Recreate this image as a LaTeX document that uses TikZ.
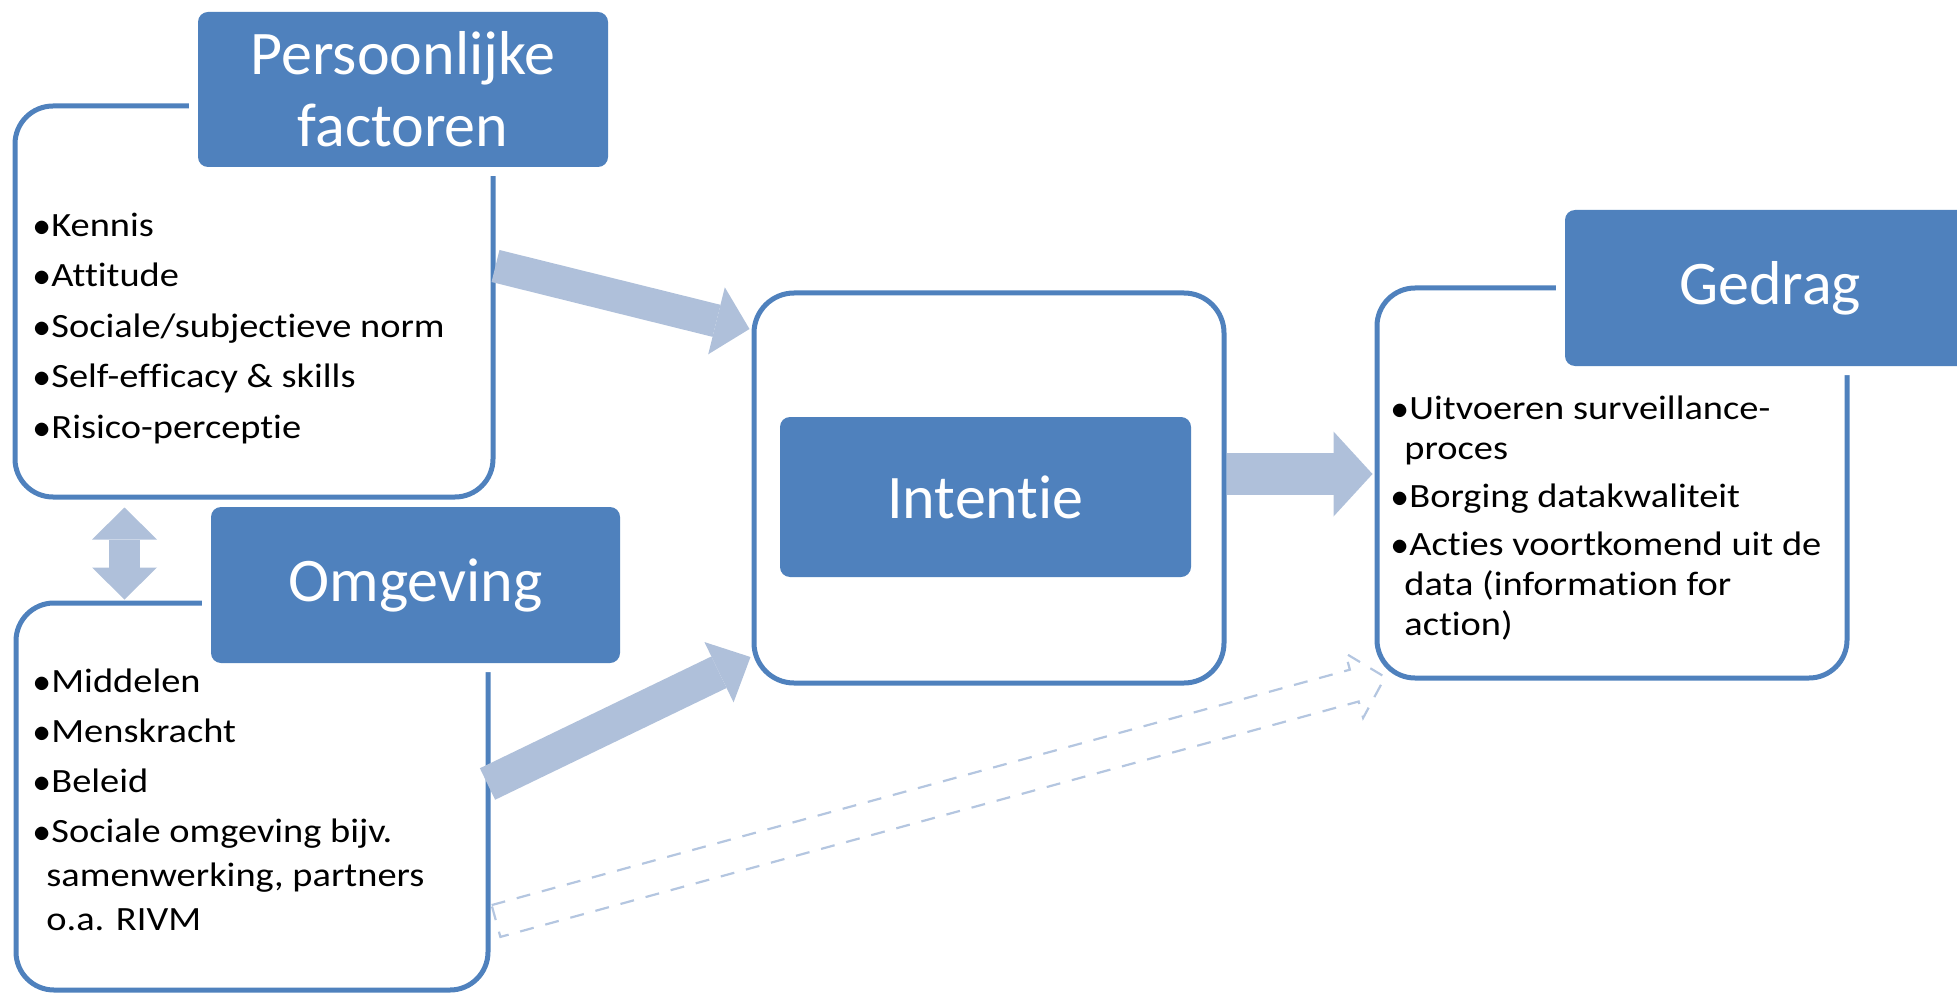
\documentclass[tikz,border=0pt]{standalone}
\usepackage{fontspec}
\setmainfont{Carlito}[Ligatures=NoCommon]
\newfontfamily\listfont{Carlito}[FakeStretch=1.13,Ligatures=NoCommon]
\usetikzlibrary{arrows.meta,calc,fit}
\definecolor{hdrblue}{HTML}{4F81BD}
\definecolor{arrowblue}{HTML}{AFC0DA}
\definecolor{dashblue}{HTML}{B4C6E0}
\newcommand\bul{\makebox[9pt][l]{$\bullet$}}
\newcommand\cont{\hspace*{6.5pt}}
\tikzset{
  cbox/.style={draw=hdrblue, line width=2.5pt, fill=white, rounded corners=19pt, inner sep=0pt},
  hdr/.style={fill=hdrblue, rounded corners=5pt, inner sep=0pt,
    preaction={draw=white, line width=9pt}},
  ibox/.style={fill=hdrblue, rounded corners=5pt, inner sep=0pt},
  hdrtext/.style={text=white, inner sep=0pt, align=center,
    font=\fontsize{31}{36}\selectfont},
  itemlist/.style={anchor=base west, inner sep=0pt, align=left, text=black},
  barrow/.style={draw=arrowblue, line cap=butt},
  dashline/.style={draw=dashblue, line width=1.1pt, dash pattern=on 7pt off 6pt, line join=miter}
}
\begin{document}
\begin{tikzpicture}[x=0.5pt,y=-0.5pt]
\useasboundingbox (0,0) rectangle (1957,994);
\clip (0,0) rectangle (1957,994);

% boxes
\node[cbox, fit={(16,603)(488,990)}] (ob) {};
\node[hdr, fit={(211,507)(620,663)}, label={[hdrtext]center:Omgeving}] (oh) {};
\node[cbox, fit={(15,106)(493,497)}] (pb) {};
\node[hdr, fit={(198,12)(608,167)}, label={[hdrtext]center:{Persoonlijke\\factoren}}] (ph) {};
\node[cbox, rounded corners=20pt, fit={(754,293)(1224,683)}] (ib) {};
\node[ibox, fit={(780,417)(1191,577)}, label={[hdrtext]center:Intentie}] (ii) {};
\node[cbox, fit={(1377,288)(1847,678)}] (gb) {};
\node[hdr, fit={(1565,210)(1975,366)}, label={[hdrtext]center:Gedrag}] (gh) {};

% lists (anchored at the baseline of their last line)
\node[itemlist, font=\listfont\fontsize{17}{20.5}\selectfont] (pbl) at (33,438)
  {\bul Kennis\\[4.75pt]\bul Attitude\\[4.75pt]\bul Sociale/subjectieve norm\\[4.75pt]\bul Self-efficacy \& skills\\[4.75pt]\bul Risico-perceptie};
\node[itemlist, font=\listfont\fontsize{17}{22}\selectfont] (obl) at (33,930)
  {\bul Middelen\\[3pt]\bul Menskracht\\[3pt]\bul Beleid\\[3pt]\bul Sociale omgeving bijv.\\\cont samenwerking, partners\\\cont o.a. RIVM};
\node[itemlist, font=\listfont\fontsize{17}{20}\selectfont] (gbl) at (1391,635)
  {\bul Uitvoeren surveillance-\\\cont proces\\[4pt]\bul Borging datakwaliteit\\[4pt]\bul Acties voortkomend uit de\\\cont data (information for\\\cont action)};

% connector end points
\coordinate (a1s) at ($(pb.east)+(0,-35.5)$);
\coordinate (a1t) at ($(ib.west)+(-2,-159)$);
\coordinate (a2s) at ($(ob.east)+(-3,-12.5)$);
\coordinate (a2t) at ($(ib.west)+(-1,169)$);
\coordinate (a3s) at ($(ib.east)+(0,-14)$);
\coordinate (a3t) at ($(gb.west)+(-2,-9)$);
\coordinate (a4s) at ($(pb.south)+(-129.5,8)$);
\coordinate (a4t) at ($(ob.north)+(-127.5,-1)$);
\coordinate (a5s) at ($(ob.east)+(5.5,124.5)$);
\coordinate (a5t) at ($(gb.west)+(6,194)$);

% block arrows
\draw[barrow, line width=16.5pt, -{Triangle[width=34.5pt,length=17pt,line width=0pt]}] (a1s) -- (a1t);
\draw[barrow, line width=17.5pt, -{Triangle[width=33.5pt,length=17.5pt,line width=0pt]}] (a2s) -- (a2t);
\draw[barrow, line width=21pt, -{Triangle[width=42.5pt,length=19.5pt,line width=0pt]}] (a3s) -- (a3t);
\draw[barrow, line width=15.5pt, {Triangle[width=32.5pt,length=16pt,line width=0pt]}-{Triangle[width=32.5pt,length=16pt,line width=0pt]}] (a4s) -- (a4t);

% dashed outline arrow
\begin{scope}[shift={(a5s)}, rotate=15.34]
\draw[dashline] (0,-16.5) -- (890,-16.5) -- (890,-33.5) -- (922,0) -- (890,33.5) -- (890,16.5) -- (0,16.5) -- cycle;
\end{scope}
\end{tikzpicture}
\end{document}
